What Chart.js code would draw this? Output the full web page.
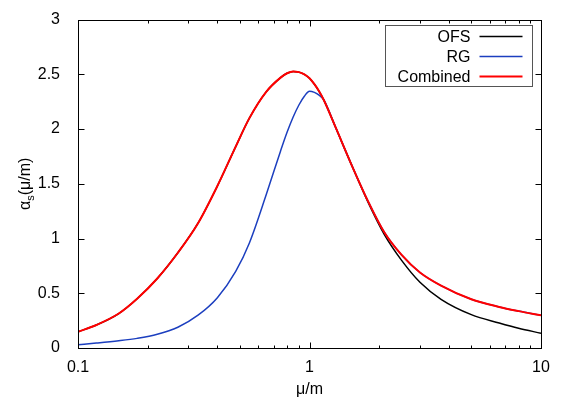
<!DOCTYPE html>
<html>
<head>
<meta charset="utf-8">
<script src="https://cdn.jsdelivr.net/npm/chart.js@4/dist/chart.umd.min.js"></script>
<style>
  html, body { margin: 0; padding: 0; background: #fff; }
</style>
</head>
<body>
<canvas id="myChart" width="570" height="399"></canvas>
<script>
// values (mu/m on a log axis)
const xValues =        [0.1,   0.12,  0.15,  0.18,  0.22,  0.27, 0.33, 0.4,  0.48, 0.55, 0.65, 0.75, 0.8,  0.85,  0.9,  0.95, 1.0,   1.05,  1.1,   1.15, 1.3,  1.5,  1.8,  2.1,  2.5,  3.0,  3.7,   5.0,   6.6,   8.0,   10];
const combinedValues = [0.148, 0.21,  0.315, 0.45,  0.635, 0.87, 1.14, 1.48, 1.84, 2.10, 2.34, 2.47, 2.51, 2.527, 2.52, 2.50, 2.465, 2.41,  2.345, 2.27, 2.01, 1.70, 1.33, 1.06, 0.85, 0.69, 0.57,  0.445, 0.375, 0.337, 0.298];
const rgValues =       [0.03,  0.045, 0.066, 0.088, 0.125, 0.19, 0.30, 0.46, 0.70, 0.96, 1.40, 1.80, 1.97, 2.11,  2.22, 2.30, 2.345, 2.335, 2.31,  2.27, 2.01, 1.70, 1.33, 1.06, 0.85, 0.69, 0.57,  0.445, 0.375, 0.337, 0.298];
const ofsValues =      [0.148, 0.21,  0.315, 0.45,  0.635, 0.87, 1.14, 1.48, 1.84, 2.10, 2.34, 2.47, 2.51, 2.527, 2.52, 2.50, 2.465, 2.41,  2.345, 2.27, 2.01, 1.70, 1.32, 1.04, 0.80, 0.60, 0.445, 0.305, 0.228, 0.18,  0.135];

const seriesLabels = ['OFS', 'RG', 'Combined'];
const xTickValues = [0.1, 1, 10];
const xMinorTicks = [0.2, 0.3, 0.4, 0.5, 0.6, 0.7, 0.8, 0.9, 2, 3, 4, 5, 6, 7, 8, 9];
const yTickValues = [0, 0.5, 1, 1.5, 2, 2.5, 3];

const FONT = '"Liberation Sans", Arial, Helvetica, sans-serif';

function toPoints(vals) {
    return xValues.map((x, i) => ({ x: x, y: vals[i] }));
}

// gnuplot style frame with inward ticks, axis titles and boxed key
const framePlugin = {
    id: 'frame',
    afterDraw(chart) {
        const ctx = chart.ctx;
        const a = chart.chartArea;
        const xs = chart.scales.x, ys = chart.scales.y;
        const L = Math.round(a.left) + 0.5, R = Math.round(a.right) + 0.5;
        const T = Math.round(a.top) + 0.5, B = Math.round(a.bottom) + 0.5;
        ctx.save();
        ctx.strokeStyle = '#000';
        ctx.lineWidth = 1;
        ctx.beginPath();
        xTickValues.forEach(v => {
            const p = Math.round(xs.getPixelForValue(v)) + 0.5;
            ctx.moveTo(p, B); ctx.lineTo(p, B - 6);
            ctx.moveTo(p, T); ctx.lineTo(p, T + 6);
        });
        xMinorTicks.forEach(v => {
            const p = Math.round(xs.getPixelForValue(v)) + 0.5;
            ctx.moveTo(p, B); ctx.lineTo(p, B - 3);
            ctx.moveTo(p, T); ctx.lineTo(p, T + 3);
        });
        yTickValues.forEach(v => {
            const p = Math.round(ys.getPixelForValue(v)) + 0.5;
            ctx.moveTo(L, p); ctx.lineTo(L + 6, p);
            ctx.moveTo(R, p); ctx.lineTo(R - 6, p);
        });
        ctx.stroke();
        ctx.strokeRect(L, T, R - L, B - T);

        // key
        const ds = chart.data.datasets;
        const boxR = R - 9, boxL = boxR - 147, boxT = T + 5, rowH = 20;
        ctx.fillStyle = '#fff';
        ctx.fillRect(boxL, boxT, boxR - boxL, rowH * ds.length + 1);
        ctx.strokeStyle = '#555';
        ctx.strokeRect(boxL, boxT, boxR - boxL, rowH * ds.length + 1);
        ctx.font = '16px ' + FONT;
        ctx.textAlign = 'right';
        ctx.textBaseline = 'middle';
        seriesLabels.forEach((lab, i) => {
            const cy = boxT + 11 + i * rowH;
            ctx.fillStyle = '#000';
            ctx.fillText(lab, boxR - 62, cy + 1);
            ctx.strokeStyle = ds[i].borderColor;
            ctx.lineWidth = ds[i].borderWidth;
            ctx.beginPath();
            ctx.moveTo(boxR - 53, cy); ctx.lineTo(boxR - 10, cy);
            ctx.stroke();
        });

        // axis titles
        ctx.fillStyle = '#000';
        ctx.textAlign = 'center';
        ctx.textBaseline = 'middle';
        ctx.font = '16px ' + FONT;
        ctx.fillText('\u03bc/m', (a.left + a.right) / 2, 390);

        ctx.translate(26, (a.top + a.bottom) / 2);
        ctx.rotate(-Math.PI / 2);
        const p1 = '\u03b1', p2 = 's', p3 = '(\u03bc/m)';
        ctx.font = '16px ' + FONT;
        const w1 = ctx.measureText(p1).width, w3 = ctx.measureText(p3).width;
        ctx.font = '11px ' + FONT;
        const w2 = ctx.measureText(p2).width;
        let x0 = -(w1 + w2 + w3) / 2;
        ctx.textAlign = 'left';
        ctx.font = '16px ' + FONT;
        ctx.fillText(p1, x0, 0);
        ctx.font = '11px ' + FONT;
        ctx.fillText(p2, x0 + w1, 5);
        ctx.font = '16px ' + FONT;
        ctx.fillText(p3, x0 + w1 + w2, 0);
        ctx.restore();
    }
};

const data = {
    datasets: [
        { label: seriesLabels[0], data: toPoints(ofsValues), borderColor: '#000000', borderWidth: 1.5, order: 3 },
        { label: seriesLabels[1], data: toPoints(rgValues), borderColor: '#1c3fbf', borderWidth: 1.5, order: 2 },
        { label: seriesLabels[2], data: toPoints(combinedValues), borderColor: '#ff0000', borderWidth: 2, order: 1 }
    ]
};

const config = {
    type: 'line',
    data: data,
    options: {
        responsive: false,
        animation: false,
        layout: { padding: { left: 0, top: 16, right: 29, bottom: 0 } },
        elements: {
            point: { radius: 0 },
            line: { cubicInterpolationMode: 'monotone', fill: false }
        },
        plugins: {
            legend: { display: false },
            tooltip: { enabled: false }
        },
        scales: {
            x: {
                type: 'logarithmic',
                min: 0.1,
                max: 10,
                grid: { display: false },
                border: { display: false },
                ticks: {
                    font: { family: FONT, size: 16 },
                    color: '#000',
                    padding: 2,
                    maxRotation: 0,
                    autoSkip: false,
                    callback: v => String(v)
                },
                afterBuildTicks: s => { s.ticks = xTickValues.map(v => ({ value: v })); },
                afterFit: s => { s.height = 51; }
            },
            y: {
                type: 'linear',
                min: 0,
                max: 3,
                grid: { display: false },
                border: { display: false },
                ticks: {
                    font: { family: FONT, size: 16 },
                    color: '#000',
                    padding: 10,
                    callback: v => String(v)
                },
                afterBuildTicks: s => { s.ticks = yTickValues.map(v => ({ value: v })); },
                afterFit: s => { s.width = 78; }
            }
        }
    },
    plugins: [framePlugin]
};

const myChart = new Chart(document.getElementById('myChart'), config);
</script>
</body>
</html>
